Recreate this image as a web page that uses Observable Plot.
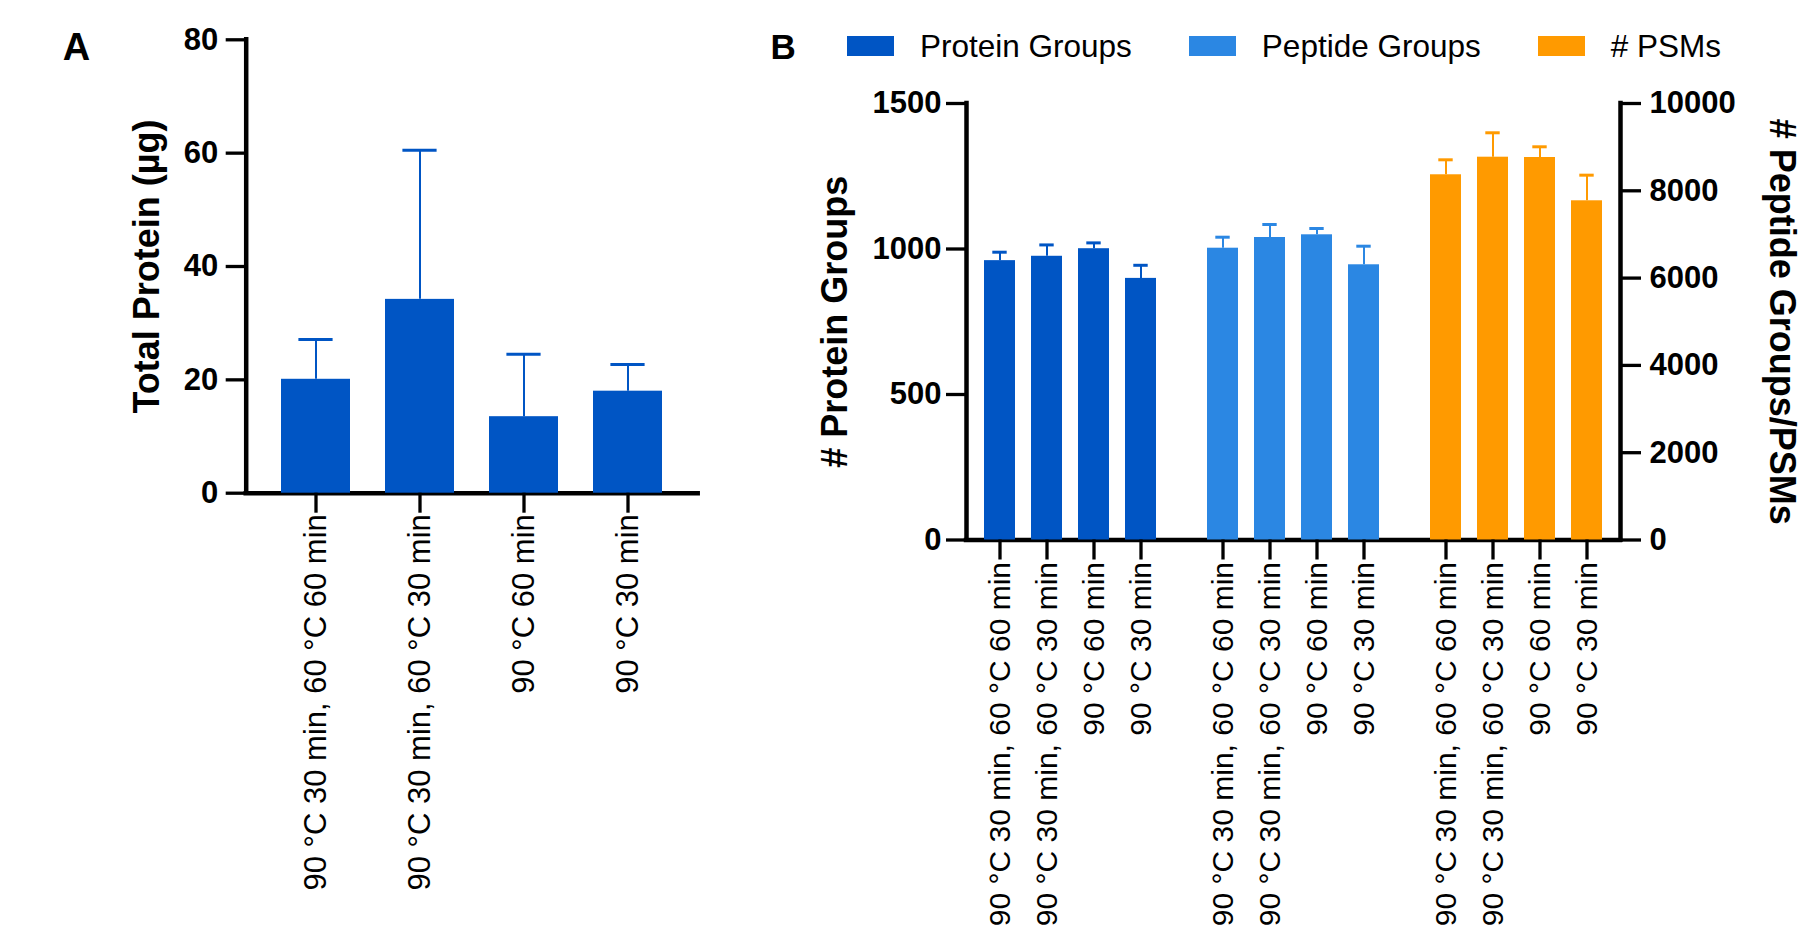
<!DOCTYPE html>
<html>
<head>
<meta charset="utf-8">
<script src="https://cdn.jsdelivr.net/npm/d3@7"></script>
<script src="https://cdn.jsdelivr.net/npm/@observablehq/plot@0.6"></script>
<style>
  html, body { margin: 0; padding: 0; background: #fff; }
  #root { position: relative; width: 1807px; height: 929px; overflow: hidden; font-family: "Liberation Sans", Arial, sans-serif; }
  .panel-letter { position: absolute; font-weight: bold; line-height: 1; color: #000; }
  #legend { position: absolute; display: flex; align-items: center; gap: 57px; height: 36px; line-height: 36px; }
  .item { display: flex; align-items: center; }
  .swatch { width: 47px; height: 20px; margin-right: 26px; }
  .item span { font-size: 31.5px; color: #000; white-space: nowrap; }
</style>
</head>
<body>
<div id="root"></div>
<script>
// ---------------- data ----------------
const conditions = [
  "90 °C 30 min, 60 °C 60 min",
  "90 °C 30 min, 60 °C 30 min",
  "90 °C 60 min",
  "90 °C 30 min"
];
// Panel A: Total protein (µg)
const totalProteinMean = [20.1, 34.2, 13.5, 18.0];
const totalProteinSD   = [7.0, 26.3, 11.0, 4.7];
const panelATicks = [0, 20, 40, 60, 80];

// Panel B
const groups = ["Protein Groups", "Peptide Groups", "# PSMs"];
const proteinGroupsMean = [960, 975, 1001, 899];
const proteinGroupsSD   = [29, 39, 20, 45];
const peptideGroupsMean = [6685, 6930, 6992, 6305];
const peptideGroupsSD   = [252, 298, 144, 426];
const psmMean = [8367, 8770, 8763, 7771];
const psmSD   = [343, 559, 245, 587];
const leftTicksB  = [0, 500, 1000, 1500];
const rightTicksB = [0, 2000, 4000, 6000, 8000, 10000];

const groupColors = ["#0055C4", "#2B87E3", "#FF9A00"];

// ---------------- layout ----------------
const W = 1807, H = 929;
const FONT = "Liberation Sans, Arial, sans-serif";
const A = {left: 245.7, right: 697.7, top: 39.3, bottom: 492.7};
const B = {left: 966, right: 1620, top: 103, bottom: 539.5};

const root = document.getElementById("root");

function frameMargins(f) {
  return {marginLeft: f.left, marginRight: W - f.right, marginTop: f.top, marginBottom: H - f.bottom};
}
function layer(opts) {
  const svg = Plot.plot({
    width: W, height: H,
    style: {position: "absolute", left: "0px", top: "0px", overflow: "visible",
            background: "transparent", fontFamily: FONT, color: "#000"},
    ...opts
  });
  root.appendChild(svg);
  return svg;
}
const rows = (means, sds) => conditions.map((c, i) => ({condition: c, mean: means[i], sd: sds[i]}));

// ---------------- Panel A ----------------
const dataA = rows(totalProteinMean, totalProteinSD);

// axes layer
layer({
  ...frameMargins(A),
  x: {domain: [0, 1], axis: null},
  y: {domain: [0, 80]},
  marks: [
    Plot.ruleY([0], {strokeWidth: 4.5, strokeLinecap: "square"}),
    Plot.ruleX([0], {strokeWidth: 4.5, strokeLinecap: "square"}),
    Plot.axisY({ticks: panelATicks, tickFormat: "d", tickSize: 20, tickPadding: 8,
                fontSize: 31, fontWeight: "bold", strokeWidth: 3.3, label: null}),
    Plot.text(["Total Protein (µg)"], {text: d => d, frameAnchor: "left", rotate: -90, dx: -99,
              textAnchor: "middle", fontSize: 36, fontWeight: "bold"})
  ]
});
// bars layer
layer({
  ...frameMargins(A),
  x: {domain: conditions, paddingInner: 1/3, paddingOuter: 1/3},
  y: {domain: [0, 80], axis: null},
  marks: [
    Plot.barY(dataA, {x: "condition", y: "mean", fill: groupColors[0]}),
    Plot.ruleX(dataA, {x: "condition", y1: "mean", y2: d => d.mean + d.sd, stroke: groupColors[0], strokeWidth: 2}),
    Plot.tickY(dataA, {x: "condition", y: d => d.mean + d.sd, stroke: groupColors[0], strokeWidth: 3,
                       insetLeft: 17.4, insetRight: 17.4}),
    Plot.axisX({tickSize: 20, tickPadding: 1, tickRotate: -90, fontSize: 31, strokeWidth: 3.3, label: null})
  ]
});

// ---------------- Panel B ----------------
// axes (left scale)
layer({
  ...frameMargins(B),
  x: {domain: [0, 1], axis: null},
  y: {domain: [0, 1500]},
  marks: [
    Plot.ruleY([0], {strokeWidth: 4.5, strokeLinecap: "square"}),
    Plot.ruleX([0, 1], {strokeWidth: 4.5, strokeLinecap: "square"}),
    Plot.axisY({ticks: leftTicksB, tickFormat: "d", tickSize: 20, tickPadding: 5,
                fontSize: 31, fontWeight: "bold", strokeWidth: 3.3, label: null}),
    Plot.text(["# Protein Groups"], {text: d => d, frameAnchor: "left", rotate: -90, dx: -131.5,
              textAnchor: "middle", fontSize: 36, fontWeight: "bold"})
  ]
});
// axes (right scale)
layer({
  ...frameMargins(B),
  x: {domain: [0, 1], axis: null},
  y: {domain: [0, 10000]},
  marks: [
    Plot.axisY({anchor: "right", ticks: rightTicksB, tickFormat: "d", tickSize: 20, tickPadding: 9,
                fontSize: 31, fontWeight: "bold", strokeWidth: 3.3, label: null}),
    Plot.text(["# Peptide Groups/PSMs"], {text: d => d, frameAnchor: "right", rotate: 90, dx: 161,
              textAnchor: "middle", fontSize: 36, fontWeight: "bold"})
  ]
});

// one small plot per group, laid out like facets
const groupBand = d3.scaleBand().domain(groups).range([B.left, B.right]).paddingInner(0.0685);
const groupData = [
  rows(proteinGroupsMean, proteinGroupsSD),
  rows(peptideGroupsMean, peptideGroupsSD),
  rows(psmMean, psmSD)
];
const groupYDomain = [[0, 1500], [0, 10000], [0, 10000]];

groups.forEach((g, i) => {
  const x0 = groupBand(g);
  const f = {left: x0, right: x0 + groupBand.bandwidth(), top: B.top, bottom: B.bottom};
  const data = groupData[i];
  const col = groupColors[i];
  layer({
    ...frameMargins(f),
    x: {domain: conditions, paddingInner: 1/3, paddingOuter: 1/3},
    y: {domain: groupYDomain[i], axis: null},
    marks: [
      Plot.barY(data, {x: "condition", y: "mean", fill: col}),
      Plot.ruleX(data, {x: "condition", y1: "mean", y2: d => d.mean + d.sd, stroke: col, strokeWidth: 2}),
      Plot.tickY(data, {x: "condition", y: d => d.mean + d.sd, stroke: col, strokeWidth: 3,
                        insetLeft: 8.3, insetRight: 8.3}),
      Plot.axisX({tickSize: 20, tickPadding: 2, tickRotate: -90, fontSize: 30, strokeWidth: 3.3, label: null})
    ]
  });
});

// ---------------- panel letters & legend ----------------
function letter(txt, left, top, size) {
  const d = document.createElement("div");
  d.className = "panel-letter";
  d.textContent = txt;
  d.style.left = left + "px";
  d.style.top = top + "px";
  d.style.fontSize = size + "px";
  root.appendChild(d);
}
letter("A", 62.7, 27.8, 38);
letter("B", 770.5, 29.4, 35);

const legend = document.createElement("div");
legend.id = "legend";
legend.style.left = "847px";
legend.style.top = "27.5px";
groups.forEach((g, i) => {
  const item = document.createElement("div");
  item.className = "item";
  const sw = document.createElement("div");
  sw.className = "swatch";
  sw.style.background = groupColors[i];
  const t = document.createElement("span");
  t.textContent = g;
  item.appendChild(sw);
  item.appendChild(t);
  legend.appendChild(item);
});
root.appendChild(legend);
</script>
</body>
</html>
